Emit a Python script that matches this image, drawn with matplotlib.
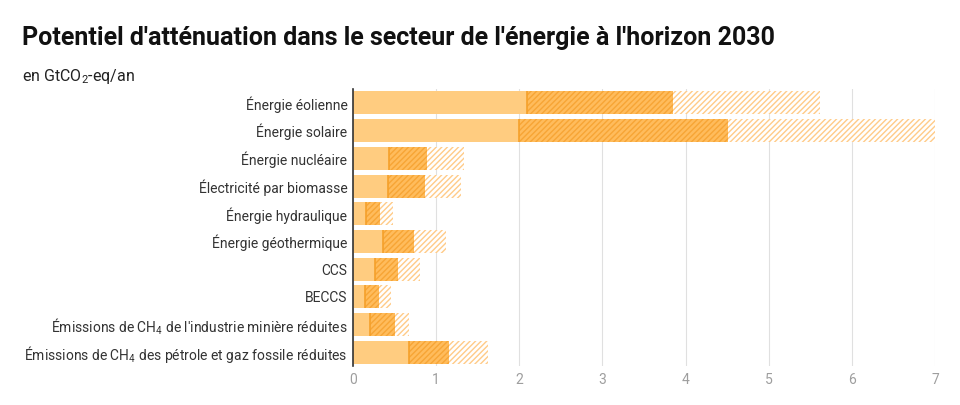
import matplotlib
matplotlib.use("Agg")
import matplotlib.pyplot as plt
import numpy as np

plt.rcParams["font.family"] = ["Roboto", "DejaVu Sans"]
plt.rcParams["mathtext.fontset"] = "custom"
plt.rcParams["mathtext.rm"] = "Roboto"
plt.rcParams["mathtext.it"] = "Roboto"
plt.rcParams["hatch.linewidth"] = 1.0

# ── data (GtCO2-eq/an) ───────────────────────────────────────────────────────
categories = [
    "Énergie éolienne",
    "Énergie solaire",
    "Énergie nucléaire",
    "Électricité par biomasse",
    "Énergie hydraulique",
    "Énergie géothermique",
    "CCS",
    "BECCS",
    "Émissions de CH$_4$ de l'industrie minière réduites",
    "Émissions de CH$_4$ des pétrole et gaz fossile réduites",
]
# cumulative end of each segment
solid_end  = [2.09, 2.00, 0.43, 0.42, 0.16, 0.36, 0.27, 0.15, 0.21, 0.67]
dark_end   = [3.85, 4.51, 0.89, 0.87, 0.32, 0.73, 0.54, 0.31, 0.50, 1.16]
light_end  = [5.62, 7.00, 1.33, 1.30, 0.48, 1.12, 0.81, 0.46, 0.67, 1.62]
xticks     = [0, 1, 2, 3, 4, 5, 6, 7]

SOLID  = "#FFCC80"
DARK   = "#FFBC5C"
HATCH  = "#F7A535"
LIGHTH = "#FFCB88"

fig = plt.figure(figsize=(9.6, 4.05), dpi=100)
ax = fig.add_axes([0.3677, 0.096, 0.974 - 0.3677, 0.684])

y = np.arange(len(categories))
solid = np.array(solid_end)
dark = np.array(dark_end)
light = np.array(light_end)
h = 0.83

ax.barh(y, solid, height=h, color=SOLID, linewidth=0, zorder=2)
ax.barh(y, dark - solid, left=solid, height=h, color=DARK, edgecolor=HATCH,
        hatch="//////", linewidth=0, zorder=2)
ax.barh(y, light - dark, left=dark, height=h, color="white", edgecolor=LIGHTH,
        hatch="//////", linewidth=0, zorder=2)
# thin darker edge where the hatched part starts
ax.vlines(solid, y - h / 2, y + h / 2, color="#F5A02A", linewidth=1.2, zorder=3)

ax.set_xlim(0, 7)
ax.set_ylim(len(categories) - 0.5, -0.5)
ax.set_xticks(xticks)
ax.set_xticklabels([str(t) for t in xticks])
ax.set_yticks(y)
ax.set_yticklabels(categories)
ax.tick_params(axis="y", length=0, pad=4, labelsize=10, labelcolor="#333333")
ax.tick_params(axis="x", length=0, pad=5, labelsize=10, labelcolor="#9e9e9e")
for s in ["top", "right", "bottom"]:
    ax.spines[s].set_visible(False)
ax.spines["left"].set_color("#333333")
ax.spines["left"].set_linewidth(1.2)
ax.spines["left"].set_zorder(4)
ax.grid(axis="x", color="#e0e0e0", linewidth=0.8, zorder=0)
ax.set_axisbelow(True)

fig.text(0.023, 0.907, "Potentiel d'atténuation dans le secteur de l'énergie à l'horizon 2030",
         fontsize=18, fontweight="bold", color="#111111", va="center")
fig.text(0.023, 0.81, "en GtCO$_2$-eq/an", fontsize=11.5, color="#222222", va="center")

fig.savefig("out.png", dpi=100)
